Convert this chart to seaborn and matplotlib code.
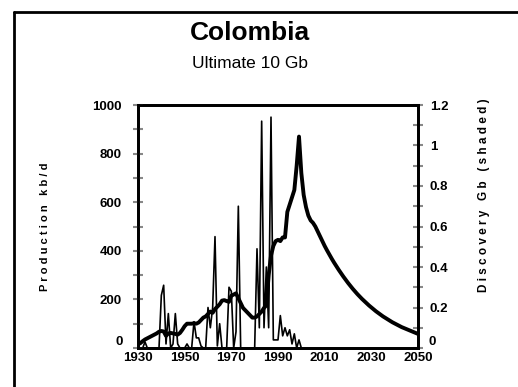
import numpy as np
import pandas as pd
import seaborn as sns
import matplotlib
matplotlib.use('Agg')
import matplotlib.pyplot as plt
from matplotlib.lines import Line2D
from matplotlib.ticker import MultipleLocator, FuncFormatter

sns.set_style('white')
plt.rcParams['font.family'] = ['Liberation Sans', 'DejaVu Sans']
plt.rcParams['text.color'] = 'black'
plt.rcParams['axes.labelcolor'] = 'black'

# production kb/d, 1930-2050
prod_years = list(range(1930, 2051))
production = [
    15, 20, 28, 35, 40, 45, 50, 55, 60, 67,          # 1930s
    70, 68, 50, 60, 62, 60, 58, 55, 62, 75,          # 1940s
    90, 100, 100, 100, 102, 100, 105, 115, 125, 130,  # 1950s
    140, 150, 145, 160, 170, 180, 195, 197, 193, 190,  # 1960s
    215, 220, 225, 205, 185, 165, 155, 145, 135, 125,  # 1970s
    125, 130, 140, 150, 165, 175, 300, 380, 420, 440,  # 1980s
    445, 440, 455, 455, 560, 590, 620, 650, 750, 870,  # 1990s
    720, 630, 580, 545, 525, 515, 500, 480, 460, 440,  # 2000s
    420, 402, 385, 368, 352, 337, 322, 308, 294, 281,  # 2010s
    268, 256, 244, 233, 222, 212, 202, 193, 184, 175,  # 2020s
    167, 159, 151, 144, 137, 130, 124, 118, 112, 106,  # 2030s
    101, 96, 91, 86, 82, 78, 74, 70, 66, 62,           # 2040s
    58,
]

# discovery Gb, 1930-2000
disc_years = list(range(1930, 2001))
discovery = [
    0, 0, 0, 0.03, 0, 0, 0, 0, 0, 0,
    0.26, 0.31, 0.02, 0.17, 0, 0.02, 0.17, 0.02, 0, 0,
    0, 0.02, 0, 0, 0.13, 0.05, 0.05, 0.01, 0, 0,
    0.2, 0.1, 0.2, 0.55, 0.01, 0.12, 0, 0, 0, 0.3,
    0.28, 0, 0.08, 0.7, 0, 0, 0, 0, 0, 0,
    0, 0.49, 0.1, 1.12, 0.1, 0.4, 0.1, 1.14, 0.04, 0.04,
    0.04, 0.16, 0.06, 0.1, 0.06, 0.09, 0.02, 0.07, 0, 0.04,
    0,
]

df_prod = pd.DataFrame({'year': prod_years, 'prod': production})
df_disc = pd.DataFrame({'year': disc_years, 'disc': discovery})

fig = plt.figure(figsize=(5.18, 3.87), dpi=100)
ax = fig.add_axes([138 / 518, 1 - 348 / 387, 280 / 518, 243 / 387])
ax2 = ax.twinx()

sns.lineplot(data=df_disc, x='year', y='disc', ax=ax2, color='black', lw=1.2)
sns.lineplot(data=df_prod, x='year', y='prod', ax=ax, color='black', lw=2.8)
ax.set_zorder(ax2.get_zorder() + 1)
ax.patch.set_visible(False)

ax.set_xlim(1930, 2050)
ax.set_ylim(0, 1000)
ax2.set_ylim(0, 1.2)
ax.set_xticks(range(1930, 2051, 20))
ax.yaxis.set_major_locator(MultipleLocator(200))
ax.yaxis.set_minor_locator(MultipleLocator(100))
ax2.yaxis.set_major_locator(MultipleLocator(0.2))
ax2.yaxis.set_minor_locator(MultipleLocator(0.1))
# the zero labels are drawn separately, just above the x axis
ax.yaxis.set_major_formatter(FuncFormatter(lambda v, p: '' if v == 0 else '{:g}'.format(v)))
ax2.yaxis.set_major_formatter(
    FuncFormatter(lambda v, p: '' if abs(v) < 1e-9 else '{:g}'.format(round(v, 1))))

for a in (ax, ax2):
    for s in a.spines.values():
        s.set_color('black')
        s.set_linewidth(2)
    a.tick_params(axis='y', which='both', direction='inout', length=7, width=1.5,
                  color='#888888', labelcolor='black', labelsize=9.5)
    a.set_xlabel('')
    a.set_ylabel('')
ax.tick_params(axis='y', pad=8)
ax2.tick_params(axis='y', pad=5)
ax.tick_params(axis='x', length=0, labelsize=9.5, labelcolor='black', pad=3)
for lab in ax.get_xticklabels() + ax.get_yticklabels() + ax2.get_yticklabels():
    lab.set_fontweight('bold')

ax.text(-0.054, 0, '0', transform=ax.get_yaxis_transform(), ha='right', va='bottom',
        fontsize=9.5, fontweight='bold')
ax.text(1.036, 0, '0', transform=ax.get_yaxis_transform(), ha='left', va='bottom',
        fontsize=9.5, fontweight='bold')

ax.set_ylabel('P r o d u c t i o n   k b / d', fontsize=8, fontweight='bold')
ax.yaxis.set_label_coords(-0.314, 0.5)
ax2.set_ylabel('D i s c o v e r y   G b   ( s h a d e d )', fontsize=8.5, fontweight='bold')
ax2.yaxis.set_label_coords(1.214, 0.63)

fig.text(0.483, 1 - 33 / 387, 'Colombia', ha='center', va='center', fontsize=19,
         fontweight='bold')
fig.text(0.483, 1 - 63 / 387, 'Ultimate 10 Gb', ha='center', va='center', fontsize=12.5)

# outer frame (left and top edges visible)
fig.add_artist(Line2D([14 / 518, 14 / 518], [0, 1 - 12 / 387], color='black', lw=2))
fig.add_artist(Line2D([14 / 518, 1], [1 - 12 / 387, 1 - 12 / 387], color='black', lw=2))

fig.savefig('out.png', dpi=100)
